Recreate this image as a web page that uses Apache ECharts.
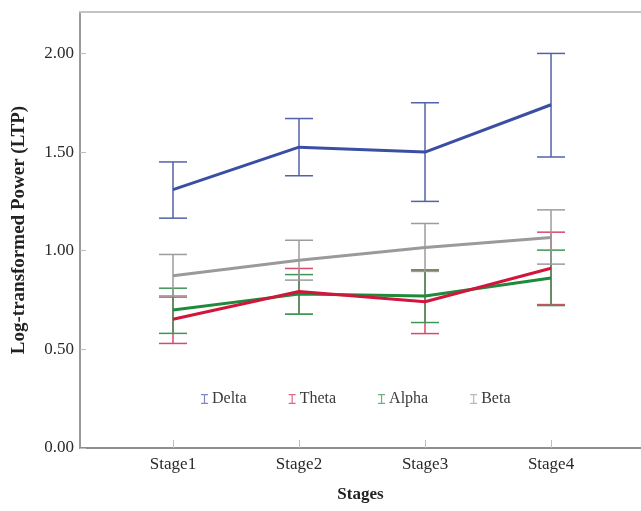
<!DOCTYPE html>
<html>
<head>
<meta charset="utf-8">
<script src="https://cdn.jsdelivr.net/npm/echarts@6/dist/echarts.min.js"></script>
<style>html,body{margin:0;padding:0;background:#fff}#c{width:641px;height:511px}</style>
</head>
<body>
<div id="c"></div>
<script>
var categories = ['Stage1', 'Stage2', 'Stage3', 'Stage4'];
var yTicks = [0, 0.5, 1.0, 1.5, 2.0];

var deltaMean = [1.31, 1.525, 1.50, 1.74];
var deltaLow  = [1.165, 1.38, 1.25, 1.475];
var deltaHigh = [1.45, 1.67, 1.75, 2.00];

var thetaMean = [0.653, 0.793, 0.741, 0.911];
var thetaLow  = [0.53, 0.678, 0.58, 0.727];
var thetaHigh = [0.765, 0.91, 0.90, 1.094];

var alphaMean = [0.70, 0.78, 0.771, 0.862];
var alphaLow  = [0.581, 0.678, 0.636, 0.722];
var alphaHigh = [0.81, 0.879, 0.903, 1.003];

var betaMean = [0.873, 0.952, 1.016, 1.067];
var betaLow  = [0.771, 0.851, 0.895, 0.932];
var betaHigh = [0.981, 1.053, 1.138, 1.207];

var groups = [
  {name: 'Delta', mean: deltaMean, low: deltaLow, high: deltaHigh, line: '#3a4fa3', bar: '#5361aa', icon: '#7f88c6'},
  {name: 'Theta', mean: thetaMean, low: thetaLow, high: thetaHigh, line: '#d2153c', bar: '#d8496a', icon: '#e36682'},
  {name: 'Alpha', mean: alphaMean, low: alphaLow, high: alphaHigh, line: '#1f8a3c', bar: '#3f9656', icon: '#72ad84'},
  {name: 'Beta',  mean: betaMean,  low: betaLow,  high: betaHigh,  line: '#9a9a9a', bar: '#9c9c9c', icon: '#b8b8b8'}
];

var FONT = '"Liberation Serif", "Times New Roman", serif';
var iconPath = 'path://M0,0H7V1.2H4.1V8.8H7V10H0V8.8H2.9V1.2H0Z';

var series = [];
groups.forEach(function (g) {
  series.push({
    name: g.name,
    type: 'custom',
    z: 2,
    data: g.mean.map(function (m, i) { return [i, g.low[i], g.high[i]]; }),
    renderItem: function (params, api) {
      var x = api.value(0);
      var lo = api.coord([x, api.value(1)]);
      var hi = api.coord([x, api.value(2)]);
      var w = 14;
      var st = {stroke: g.bar, lineWidth: 1.5};
      return {
        type: 'group',
        children: [
          {type: 'line', shape: {x1: lo[0], y1: lo[1], x2: hi[0], y2: hi[1]}, style: st},
          {type: 'line', shape: {x1: lo[0] - w, y1: lo[1], x2: lo[0] + w, y2: lo[1]}, style: st},
          {type: 'line', shape: {x1: hi[0] - w, y1: hi[1], x2: hi[0] + w, y2: hi[1]}, style: st}
        ]
      };
    },
    encode: {x: 0, y: [1, 2]},
    itemStyle: {color: g.icon},
    silent: true
  });
});
groups.slice().reverse().forEach(function (g) {
  series.push({
    name: g.name + ' mean',
    type: 'line',
    z: 3,
    symbol: 'none',
    data: g.mean.map(function (m, i) { return [i, m]; }),
    lineStyle: {color: g.line, width: 3},
    itemStyle: {color: g.line},
    silent: true
  });
});

var chart = echarts.init(document.getElementById('c'), null, {renderer: 'canvas'});
chart.setOption({
  animation: false,
  backgroundColor: '#ffffff',
  grid: {left: 80, right: 0, top: 12, bottom: 63, containLabel: false, outerBoundsMode: 'none'},
  legend: {
    data: groups.map(function (g) { return {name: g.name, icon: iconPath, itemStyle: {color: g.icon}}; }),
    left: 196, top: 386,
    itemWidth: 7, itemHeight: 12,
    itemGap: 42,
    textStyle: {fontFamily: FONT, fontSize: 16, color: '#3a3a3a', padding: [0, 0, 0, -1]},
    selectedMode: false
  },
  xAxis: [{
    type: 'value',
    min: -0.738, max: 3.714,
    name: 'Stages',
    nameLocation: 'middle',
    nameGap: 38,
    nameTextStyle: {fontFamily: FONT, fontSize: 17, fontWeight: 'bold', color: '#222'},
    splitLine: {show: false},
    axisLine: {show: true, onZero: false, lineStyle: {color: '#8e8e8e', width: 2}},
    axisTick: {show: true, inside: true, length: 8, customValues: [0, 1, 2, 3], lineStyle: {color: '#bdbdbd', width: 1}},
    axisLabel: {
      customValues: [0, 1, 2, 3],
      margin: 8,
      fontFamily: FONT, fontSize: 17, color: '#2a2a2a',
      formatter: function (v) { return categories[Math.round(v)] || ''; }
    }
  }, {
    type: 'value',
    position: 'top',
    min: -0.738, max: 3.714,
    splitLine: {show: false},
    axisLine: {show: true, onZero: false, lineStyle: {color: '#c4c4c4', width: 2}},
    axisTick: {show: false},
    axisLabel: {show: false}
  }],
  yAxis: {
    type: 'value',
    min: 0, max: 2.21,
    name: 'Log-transformed Power (LTP)',
    nameLocation: 'middle',
    nameGap: 51,
    nameRotate: 90,
    nameTextStyle: {fontFamily: FONT, fontSize: 19, fontWeight: 'bold', color: '#222'},
    splitLine: {show: false},
    axisLine: {show: true, onZero: false, lineStyle: {color: '#9a9a9a', width: 2}},
    axisTick: {show: true, inside: true, length: 6, customValues: yTicks, lineStyle: {color: '#bdbdbd', width: 1}},
    axisLabel: {
      customValues: yTicks,
      margin: 6,
      fontFamily: FONT, fontSize: 17, color: '#2a2a2a',
      formatter: function (v) { return v.toFixed(2); }
    }
  },
  series: series
});
</script>
</body>
</html>
